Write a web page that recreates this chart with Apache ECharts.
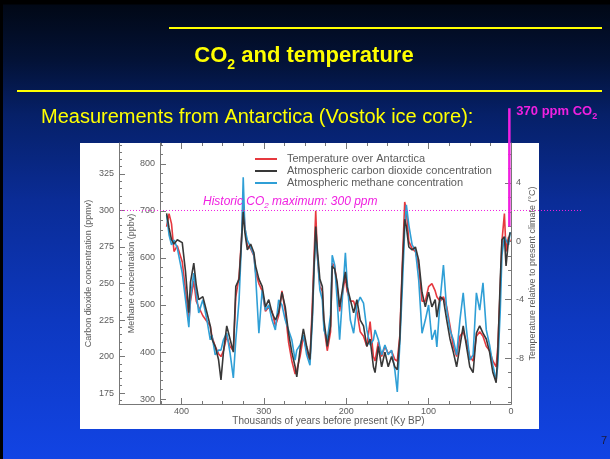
<!DOCTYPE html>
<html>
<head>
<meta charset="utf-8">
<script src="https://cdn.jsdelivr.net/npm/echarts@6/dist/echarts.min.js"></script>
<style>
  html, body { margin: 0; padding: 0; background: #000; }
  #main {
    width: 610px; height: 459px;
    background: linear-gradient(to bottom, #000000 0px, #000000 4px, #010816 5px, #031236 60px, #062068 115px, #0a2c96 200px, #0d38c0 320px, #1244e4 459px);
    box-shadow: inset 3px 0 0 #000;
  }
</style>
</head>
<body>
<div id="main"></div>
<script>
// Vostok ice core (age in thousands of years BP)
const ages = [418, 415, 412, 409, 405, 399, 395, 391, 389, 385,
  382, 379, 374, 369, 365, 363, 359, 355, 352, 349,
  345, 341, 337, 334, 330, 327, 325, 323, 320, 316,
  312, 310, 306, 302, 298, 294, 290, 286, 282, 278,
  274, 270, 266, 262, 260, 256, 252, 248, 244, 241,
  239, 237, 235, 232, 229, 227, 223, 219, 217, 214,
  211, 208, 204, 201, 199, 195, 191, 187, 183, 179,
  175, 171, 167, 165, 161, 157, 153, 149, 145, 141,
  138, 135, 132, 129, 127, 124, 120, 116, 112, 108,
  104, 100, 96, 92, 90, 86, 82, 78, 74, 70,
  66, 62, 58, 54, 50, 46, 42, 38, 34, 30,
  26, 22, 18, 16, 13, 11, 8, 6, 3, 1]

// ppmv
const co2 = [298, 288, 280, 277, 280, 278, 258, 230, 251, 264,
  249, 239, 241, 230, 221, 212, 207, 198, 184, 203,
  221, 212, 203, 248, 253, 280, 299, 285, 273, 277,
  271, 262, 253, 248, 234, 239, 230, 225, 230, 244,
  234, 216, 203, 193, 186, 205, 219, 207, 198, 230,
  262, 289, 273, 253, 248, 225, 207, 221, 262, 260,
  251, 234, 248, 258, 248, 239, 230, 239, 225, 221,
  207, 212, 193, 189, 207, 193, 203, 193, 200, 193,
  191, 212, 258, 294, 289, 275, 273, 275, 266, 244,
  234, 244, 234, 239, 227, 241, 239, 225, 212, 203,
  193, 207, 221, 207, 193, 189, 216, 221, 216, 212,
  203, 189, 182, 203, 253, 280, 282, 262, 280, 285]

// degrees C relative to present
const temperature = [1.0, 1.9, 1.2, -0.7, -0.3, -1.4, -3.4, -5.5, -4.1, -2.7,
  -4.1, -4.5, -5.1, -5.5, -5.8, -6.5, -7.2, -7.7, -7.9, -7.5,
  -6.5, -7.2, -7.5, -3.8, -2.4, 0.3, 2.7, 1.0, -0.3, -0.5,
  -1.0, -2.1, -2.9, -3.4, -4.8, -4.5, -4.8, -5.8, -5.1, -3.4,
  -4.8, -6.9, -8.2, -9.1, -8.8, -7.9, -6.5, -7.5, -8.2, -4.1,
  -1.0, 2.1, -1.0, -3.1, -3.4, -5.8, -7.5, -6.2, -1.5, -1.7,
  -3.1, -4.8, -3.4, -2.4, -3.4, -4.1, -4.1, -4.8, -6.2, -6.5,
  -7.2, -5.5, -7.9, -8.2, -6.9, -7.9, -7.2, -7.7, -7.5, -8.1,
  -8.2, -6.5, -1.7, 2.7, 2.1, 0.0, -0.5, -0.7, -1.7, -4.1,
  -4.1, -3.1, -2.9, -3.4, -3.8, -4.1, -3.8, -4.5, -5.8, -7.2,
  -7.9, -6.5, -6.2, -6.9, -7.9, -8.2, -6.5, -6.2, -6.5, -7.2,
  -7.5, -8.2, -8.6, -7.2, -3.1, 0.0, 1.9, -0.7, 0.3, 0.0]

// ppbv
const methane = [691, 649, 628, 638, 621, 568, 511, 453, 517, 568,
  526, 483, 511, 468, 426, 436, 394, 404, 404, 426,
  440, 398, 345, 426, 511, 638, 772, 664, 638, 623,
  606, 564, 440, 532, 489, 500, 468, 447, 511, 500,
  468, 447, 426, 383, 404, 415, 436, 394, 372, 468,
  574, 649, 606, 532, 511, 447, 426, 479, 606, 585,
  511, 426, 532, 611, 553, 468, 440, 500, 517, 504,
  447, 415, 426, 447, 426, 394, 415, 394, 404, 362,
  315, 415, 532, 660, 713, 670, 628, 617, 553, 440,
  468, 500, 426, 447, 411, 511, 585, 489, 447, 426,
  394, 468, 526, 447, 383, 394, 526, 489, 547, 447,
  415, 372, 340, 372, 489, 606, 645, 638, 628, 655]

// today's CO2 marker and the historic maximum
const presentAge = [2, 2]
const presentCO2 = [289, 370]
const historicMax = 300

const ageTicks = [0, 100, 200, 300, 400]
const co2Ticks = [175, 200, 225, 250, 275, 300, 325]
const ch4Ticks = [300, 400, 500, 600, 700, 800]
const tempTicks = [-8, -4, 0, 4]

const range = (a, b, s) => { const r = []; for (let v = a; v <= b + 1e-9; v += s) r.push(+v.toFixed(2)); return r }
const co2Minor = range(170, 345, 5)
const ch4Minor = range(300, 840, 20)
const tempMinor = range(-11, 6, 1)

const GRAY = '#5c5c5c'
const AXIS = '#777'
const PINK = '#f020e0'
const FONT = 'Liberation Sans, Arial, sans-serif'

const CO2 = { min: 167.5, max: 346.2 }
const CH4 = { min: 289.4, max: 844.7 }
const TMP = { min: -11.15, max: 6.74 }

function yAx(lim, pos, offset, extra) {
  return Object.assign({
    type: 'value', gridIndex: 0, position: pos, offset: offset,
    min: lim.min, max: lim.max, splitLine: { show: false },
    axisLine: { show: true, onZero: false, lineStyle: { color: AXIS } }
  }, extra)
}
function majorAxis(lim, pos, offset, ticks, name, gap) {
  return yAx(lim, pos, offset, {
    name: name, nameLocation: 'middle', nameGap: gap, nameRotate: 90, nameMoveOverlap: false,
    nameTextStyle: { color: GRAY, fontSize: 9, fontFamily: FONT },
    axisTick: { show: true, inside: true, length: 6, customValues: ticks, lineStyle: { color: AXIS } },
    axisLabel: { customValues: ticks, color: GRAY, fontSize: 9, fontFamily: FONT, margin: 5 }
  })
}
function minorAxis(lim, pos, offset, ticks) {
  return yAx(lim, pos, offset, {
    axisLine: { show: false, onZero: false },
    axisTick: { show: true, inside: true, length: 3, customValues: ticks, lineStyle: { color: AXIS } },
    axisLabel: { show: false }
  })
}

const lineSeries = (name, y, vals, color, z) => ({
  name: name, type: 'line', xAxisIndex: 0, yAxisIndex: y,
  data: ages.map((a, i) => [a, vals[i]]),
  showSymbol: false, symbol: 'none', z: z,
  lineStyle: { color: color, width: 1.6 }, itemStyle: { color: color }
})

// CO2-style label with a lowered "2": the sub token is pushed down by top padding
function subText(pre, post, size, subSize, lh, drop, extra) {
  const base = Object.assign({ fill: extra.fill, fontFamily: FONT, verticalAlign: 'top' }, extra.font)
  const pad = Math.round(lh / 2 + drop - subSize / 2)
  return {
    text: '{m|' + pre + '}{s|2}' + (post ? '{m|' + post + '}' : ''),
    verticalAlign: 'middle', align: extra.align || 'left',
    rich: {
      m: Object.assign({}, base, { fontSize: size, lineHeight: lh }),
      s: Object.assign({}, base, { fontSize: subSize, lineHeight: 4, padding: [pad, 0, 0, 0] })
    }
  }
}

const chart = echarts.init(document.getElementById('main'), null, { renderer: 'canvas' })
chart.setOption({
  backgroundColor: 'transparent',
  animation: false,
  grid: [
    { left: 160, right: 99, top: 143, bottom: 55 },
    { left: 119, right: 99, top: 143, bottom: 55 }
  ],
  legend: {
    left: 250, top: 148, orient: 'vertical', icon: 'rect',
    itemWidth: 22, itemHeight: 2, itemGap: 0,
    textStyle: { color: GRAY, fontSize: 11, fontFamily: FONT, lineHeight: 12, padding: [0, 0, 0, 5] },
    data: ['Temperature over Antarctica', 'Atmospheric carbon dioxide concentration', 'Atmospheric methane concentration']
  },
  xAxis: [
    {
      type: 'value', gridIndex: 0, position: 'bottom', inverse: true, min: 0, max: 426, interval: 100,
      splitLine: { show: false },
      axisLine: { onZero: false, lineStyle: { color: AXIS } },
      axisTick: { inside: true, length: 6, lineStyle: { color: AXIS } },
      minorTick: { show: true, splitNumber: 4, length: 3, lineStyle: { color: AXIS } },
      axisLabel: { color: GRAY, fontSize: 9, fontFamily: FONT, margin: 3, customValues: ageTicks },
      name: 'Thousands of years before present (Ky BP)', nameLocation: 'middle', nameGap: 12, nameMoveOverlap: false,
      nameTextStyle: { color: GRAY, fontSize: 10, fontFamily: FONT, padding: [0, 14, 0, 0] }
    },
    {
      type: 'value', gridIndex: 0, position: 'top', inverse: true, min: 0, max: 426, interval: 100,
      splitLine: { show: false }, axisLine: { show: false, onZero: false }, axisLabel: { show: false },
      axisTick: { inside: true, length: 6, lineStyle: { color: AXIS } },
      minorTick: { show: true, splitNumber: 4, length: 3, lineStyle: { color: AXIS } }
    },
    {
      type: 'value', gridIndex: 1, position: 'bottom', min: 0, max: 1,
      splitLine: { show: false }, axisTick: { show: false }, axisLabel: { show: false },
      axisLine: { onZero: false, lineStyle: { color: AXIS } }
    }
  ],
  yAxis: [
    majorAxis(CO2, 'left', 41, co2Ticks, 'Carbon dioxide concentration (ppmv)', 26),
    majorAxis(CH4, 'left', 0, ch4Ticks, 'Methane concentration (ppbv)', 24),
    majorAxis(TMP, 'right', 0, tempTicks, 'Temperature relative to present climate (°C)', 17),
    minorAxis(CO2, 'left', 41, co2Minor),
    minorAxis(CH4, 'left', 0, ch4Minor),
    minorAxis(TMP, 'right', 0, tempMinor),
    { type: 'value', gridIndex: 1, show: false }
  ],
  series: [
    lineSeries('Temperature over Antarctica', 2, temperature, '#e6393f', 2),
    lineSeries('Atmospheric methane concentration', 1, methane, '#2f9fd6', 3),
    lineSeries('Atmospheric carbon dioxide concentration', 0, co2, '#383838', 4),
    {
      name: '370 ppm', type: 'line', xAxisIndex: 0, yAxisIndex: 0, clip: false,
      data: presentAge.map((a, i) => [a, presentCO2[i]]),
      showSymbol: false, symbol: 'none', z: 6,
      lineStyle: { color: PINK, width: 2.5 }
    }
  ]
})

const yHist = chart.convertToPixel({ yAxisIndex: 0 }, historicMax)
const yTop = chart.convertToPixel({ yAxisIndex: 0 }, presentCO2[1])
const xNow = chart.convertToPixel({ xAxisIndex: 0 }, presentAge[1])

chart.setOption({
  graphic: [
    { type: 'rect', z: -10, silent: true, shape: { x: 80, y: 143, width: 459, height: 286 }, style: { fill: '#fff' } },
    { type: 'line', z: 10, shape: { x1: 169, y1: 28, x2: 602, y2: 28 }, style: { stroke: '#ffff00', lineWidth: 2 } },
    { type: 'line', z: 10, shape: { x1: 17, y1: 91, x2: 602, y2: 91 }, style: { stroke: '#ffff00', lineWidth: 2 } },
    {
      type: 'text', z: 10, x: 304, y: 57,
      style: subText('CO', ' and temperature', 22, 14, 24, 8, { fill: '#ffff00', font: { fontWeight: 'bold' }, align: 'center' })
    },
    {
      type: 'text', z: 10, x: 41, y: 117,
      style: { text: 'Measurements from Antarctica (Vostok ice core):', fill: '#ffff00', fontSize: 20, fontFamily: FONT, verticalAlign: 'middle' }
    },
    {
      type: 'text', z: 10, x: xNow + 7, y: yTop + 4,
      style: subText('370 ppm CO', '', 13, 9, 15, 4, { fill: PINK, font: { fontWeight: 'bold' } })
    },
    {
      type: 'line', z: 10, shape: { x1: 121, y1: yHist, x2: 582, y2: yHist },
      style: { stroke: PINK, lineWidth: 1, lineDash: [1, 2] }
    },
    {
      type: 'text', z: 10, x: 203, y: yHist - 8,
      style: subText('Historic CO', ' maximum: 300 ppm', 12, 8, 14, 3, { fill: PINK, font: { fontStyle: 'italic' } })
    },
    {
      type: 'text', z: 10, x: 607, y: 441,
      style: { text: '7', fill: '#1a1a3a', fontSize: 11, fontFamily: FONT, align: 'right', verticalAlign: 'middle' }
    }
  ]
})
</script>
</body>
</html>
